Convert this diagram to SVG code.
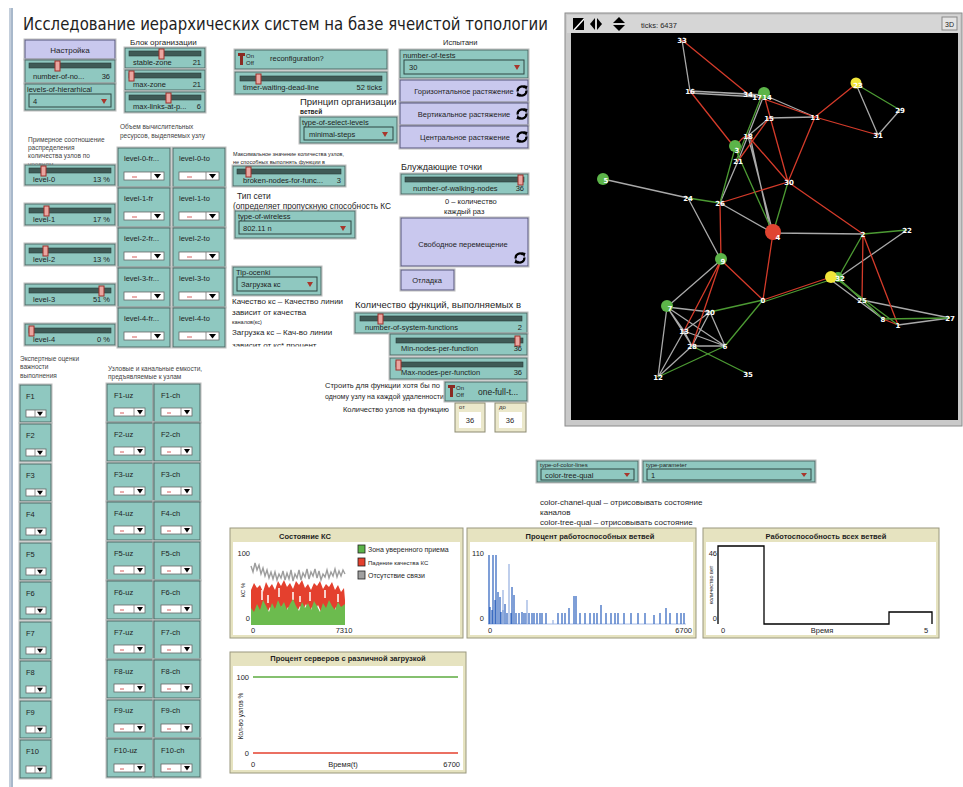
<svg xmlns="http://www.w3.org/2000/svg" width="963" height="787" viewBox="0 0 963 787">
<defs>
<style>
text{font-family:"Liberation Sans",Arial,sans-serif;fill:#1e1e1e}
.w{fill:#8fc8c0;stroke:#4f6a66;stroke-width:1}
.b{fill:#c9c8ee;stroke:#55557a;stroke-width:1}
.o{fill:none;stroke:#bdbdbd;stroke-width:1}
.trk{fill:#3f5a56;stroke:#2a3c39;stroke-width:0.6}
.kn{fill:#eaa6a0;stroke:#9c2f2a;stroke-width:1}
.lb{font-size:7.5px}
.sm{font-size:6.5px;fill:#444}
.vb{fill:#8fc8c0;stroke:#2f4643;stroke-width:1}
.ar{fill:#a8372c}
.pl{fill:#e6e3c0;stroke:#9a987e;stroke-width:1}
.pw{fill:#fff}
.pt{font-size:7.5px;font-weight:bold;text-anchor:middle}
.ax{font-size:7.5px}
.nt{font-family:"DejaVu Sans",sans-serif;font-size:7px;font-weight:bold;fill:#fff;text-anchor:middle}
.eg{stroke:#a9a9a9;stroke-width:1.3;fill:none}
.er{stroke:#d43b2a;stroke-width:1.3;fill:none}
.en{stroke:#4c9a33;stroke-width:1.3;fill:none}
.mo{fill:#ebe8cb;stroke:#8d8b72;stroke-width:1}
</style>
<!-- forever-button icon -->
<g id="fv">
<path d="M-4.3,0.5 A4.3,4.3 0 0 1 3,-3.2" stroke="#000" stroke-width="2.2" fill="none"/>
<polygon points="1.2,-6 5.6,-5 4.2,-0.8" fill="#000"/>
<path d="M4.3,-0.5 A4.3,4.3 0 0 1 -3,3.2" stroke="#000" stroke-width="2.2" fill="none"/>
<polygon points="-1.2,6 -5.6,5 -4.2,0.8" fill="#000"/>
</g>
<!-- small white drop-down boxes -->
<g id="dd40">
<rect x="0" y="0" width="40" height="8" fill="#fff" stroke="#666" stroke-width="0.8"/>
<line x1="27" y1="0" x2="27" y2="8" stroke="#777" stroke-width="0.8"/>
<polygon points="30,2 37,2 33.5,6.5" fill="#000"/>
<line x1="8" y1="5" x2="13" y2="5" stroke="#c33" stroke-width="0.8"/>
</g>
<g id="dd31">
<rect x="0" y="0" width="31" height="8" fill="#fff" stroke="#666" stroke-width="0.8"/>
<line x1="20" y1="0" x2="20" y2="8" stroke="#777" stroke-width="0.8"/>
<polygon points="23,2 29,2 26,6.5" fill="#000"/>
<line x1="6" y1="5" x2="10" y2="5" stroke="#c33" stroke-width="0.8"/>
</g>
<g id="dd20">
<rect x="0" y="0" width="20" height="7" fill="#fff" stroke="#666" stroke-width="0.8"/>
<line x1="9" y1="0" x2="9" y2="7" stroke="#777" stroke-width="0.8"/>
<polygon points="11,1.8 17,1.8 14,6" fill="#000"/>
</g>
<clipPath id="cut346"><rect x="220" y="290" width="200" height="56.5"/></clipPath>
<clipPath id="p1clip"><rect x="230" y="528" width="232" height="110"/></clipPath>
</defs>

<rect width="963" height="787" fill="#fff"/>
<rect x="9" y="8" width="4" height="779" fill="#c3cedb"/>
<line x1="12" y1="8" x2="12" y2="787" stroke="#8ea3bb" stroke-width="1"/>

<text x="23" y="30" font-size="17" textLength="525" lengthAdjust="spacingAndGlyphs" style="font-family:'DejaVu Sans',sans-serif">Исследование иерархических систем на базе ячеистой топологии</text>

<!-- setup block -->
<g id="btn-setup">
<rect class="o" x="24" y="39" width="92" height="21"/>
<rect class="b" x="25" y="40" width="90" height="19"/>
<text x="70" y="53" font-size="8" text-anchor="middle">Настройка</text>
</g>
<g id="sl-number-of-nodes">
<rect class="o" x="24" y="59" width="92" height="25"/>
<rect class="w" x="25" y="60" width="90" height="23"/>
<rect class="trk" x="29" y="63" width="82" height="5"/>
<rect class="kn" x="55" y="61" width="5" height="10"/>
<text class="lb" x="33" y="79">number-of-no...</text>
<text class="lb" x="110" y="79" text-anchor="end">36</text>
</g>
<g id="ch-levels">
<rect class="o" x="24" y="83" width="92" height="28"/>
<rect class="w" x="25" y="84" width="90" height="26"/>
<text class="lb" x="27" y="92">levels-of-hierarhical</text>
<rect class="vb" x="29" y="94" width="82" height="13"/>
<text class="lb" x="33" y="104">4</text>
<polygon class="ar" points="101,99 107,99 104,104"/>
</g>

<text x="130" y="45" font-size="8">Блок организации</text>
<g id="sl-stable-zone">
<rect class="o" x="124" y="47" width="82" height="22"/>
<rect class="w" x="125" y="48" width="80" height="20"/>
<rect class="trk" x="129" y="51" width="72" height="5"/>
<rect class="kn" x="159" y="49" width="5" height="10"/>
<text class="lb" x="133" y="65">stable-zone</text>
<text class="lb" x="201" y="65" text-anchor="end">21</text>
</g>
<g id="sl-max-zone">
<rect class="o" x="124" y="69" width="82" height="22"/>
<rect class="w" x="125" y="70" width="80" height="20"/>
<rect class="trk" x="129" y="73" width="72" height="5"/>
<rect class="kn" x="129" y="71" width="5" height="10"/>
<text class="lb" x="133" y="87">max-zone</text>
<text class="lb" x="201" y="87" text-anchor="end">21</text>
</g>
<g id="sl-max-links">
<rect class="o" x="124" y="91" width="82" height="22"/>
<rect class="w" x="125" y="92" width="80" height="20"/>
<rect class="trk" x="129" y="95" width="72" height="5"/>
<rect class="kn" x="166" y="93" width="5" height="10"/>
<text class="lb" x="133" y="109" font-size="7">max-links-at-p...</text>
<text class="lb" x="201" y="109" text-anchor="end">6</text>
</g>

<g id="sw-reconfiguration">
<rect class="o" x="234" y="49" width="154" height="21"/>
<rect class="w" x="235" y="50" width="152" height="19"/>
<rect x="238" y="53" width="7" height="3" fill="#8a2a22"/>
<rect x="240" y="53" width="3" height="12" fill="#8a2a22"/>
<text x="246" y="58" font-size="6">On</text>
<text x="246" y="65" font-size="6">Off</text>
<text class="lb" x="270" y="61">reconfiguration?</text>
</g>
<g id="sl-timer">
<rect class="o" x="234" y="71" width="154" height="24"/>
<rect class="w" x="235" y="72" width="152" height="22"/>
<rect class="trk" x="240" y="76" width="142" height="5"/>
<rect class="kn" x="256" y="74" width="5" height="10"/>
<text class="lb" x="243" y="90">timer-waiting-dead-line</text>
<text class="lb" x="382" y="90" text-anchor="end">52 ticks</text>
</g>

<text x="300" y="105" font-size="9.5">Принцип организации</text>
<text x="300" y="114" font-size="6.5" font-weight="bold">ветвей</text>
<g id="ch-select-levels">
<rect class="o" x="299" y="116" width="99" height="28"/>
<rect class="w" x="300" y="117" width="97" height="26"/>
<text class="lb" x="302" y="125">type-of-select-levels</text>
<rect class="vb" x="304" y="127" width="89" height="13"/>
<text class="lb" x="309" y="137">minimal-steps</text>
<polygon class="ar" points="382,132 388,132 385,137"/>
</g>

<text x="443" y="45" font-size="7.5">Испытани</text>
<g id="ch-number-of-tests">
<rect class="o" x="399" y="49" width="130" height="30"/>
<rect class="w" x="400" y="50" width="128" height="28"/>
<text class="lb" x="403" y="58">number-of-tests</text>
<rect class="vb" x="404" y="60" width="120" height="14"/>
<text class="lb" x="409" y="70">30</text>
<polygon class="ar" points="514,65 520,65 517,70"/>
</g>
<g id="btn-horizontal">
<rect class="o" x="399" y="79" width="130" height="24"/>
<rect class="b" x="400" y="80" width="128" height="22"/>
<text x="464" y="94" font-size="7.5" text-anchor="middle">Горизонтальное растяжение</text>
<use href="#fv" x="522" y="91"/>
</g>
<g id="btn-vertical">
<rect class="o" x="399" y="102" width="130" height="24"/>
<rect class="b" x="400" y="103" width="128" height="22"/>
<text x="464" y="117" font-size="7.5" text-anchor="middle">Вертикальное растяжение</text>
<use href="#fv" x="522" y="114"/>
</g>
<g id="btn-central">
<rect class="o" x="399" y="125" width="130" height="24"/>
<rect class="b" x="400" y="126" width="128" height="22"/>
<text x="465" y="140" font-size="7.5" text-anchor="middle">Центральное растяжение</text>
<use href="#fv" x="522" y="137"/>
</g>

<!-- level distribution -->
<text class="sm" x="28" y="142">Примерное соотношение</text>
<text class="sm" x="28" y="150">распределения</text>
<text class="sm" x="28" y="158">количества узлов по</text>
<text class="sm" x="28" y="167">уровням</text>
<text class="sm" x="120" y="129">Объем вычислительных</text>
<text class="sm" x="120" y="138">ресурсов, выделяемых узлу</text>

<g id="sl-level-0">
<rect class="o" x="24" y="164" width="92" height="22"/>
<rect class="w" x="25" y="165" width="90" height="20"/>
<rect class="trk" x="29" y="168" width="82" height="5"/>
<rect class="kn" x="41" y="166" width="5" height="10"/>
<text class="lb" x="33" y="182">level-0</text>
<text class="lb" x="110" y="182" text-anchor="end">13 %</text>
</g>
<g id="sl-level-1">
<rect class="o" x="24" y="203" width="92" height="23"/>
<rect class="w" x="25" y="204" width="90" height="21"/>
<rect class="trk" x="29" y="208" width="82" height="5"/>
<rect class="kn" x="44" y="206" width="5" height="10"/>
<text class="lb" x="33" y="222">level-1</text>
<text class="lb" x="110" y="222" text-anchor="end">17 %</text>
</g>
<g id="sl-level-2">
<rect class="o" x="24" y="243" width="92" height="23"/>
<rect class="w" x="25" y="244" width="90" height="21"/>
<rect class="trk" x="29" y="248" width="82" height="5"/>
<rect class="kn" x="43" y="246" width="5" height="10"/>
<text class="lb" x="33" y="262">level-2</text>
<text class="lb" x="110" y="262" text-anchor="end">13 %</text>
</g>
<g id="sl-level-3">
<rect class="o" x="24" y="283" width="92" height="23"/>
<rect class="w" x="25" y="284" width="90" height="21"/>
<rect class="trk" x="29" y="288" width="82" height="5"/>
<rect class="kn" x="99" y="286" width="5" height="10"/>
<text class="lb" x="33" y="302">level-3</text>
<text class="lb" x="110" y="302" text-anchor="end">51 %</text>
</g>
<g id="sl-level-4">
<rect class="o" x="24" y="323" width="92" height="23"/>
<rect class="w" x="25" y="324" width="90" height="21"/>
<rect class="trk" x="29" y="328" width="82" height="5"/>
<rect class="kn" x="29" y="326" width="5" height="10"/>
<text class="lb" x="33" y="342">level-4</text>
<text class="lb" x="110" y="342" text-anchor="end">0 %</text>
</g>

<!-- resource choosers -->
<g id="ch-level-0-fr"><rect class="o" x="117" y="147" width="54" height="41"/><rect class="w" x="118" y="148" width="52" height="39"/><text class="lb" x="124" y="161" font-size="7">level-0-fr...</text><use href="#dd40" x="124" y="172"/></g>
<g id="ch-level-0-to"><rect class="o" x="172" y="147" width="54" height="41"/><rect class="w" x="173" y="148" width="52" height="39"/><text class="lb" x="179" y="161" font-size="7">level-0-to</text><use href="#dd40" x="179" y="172"/></g>
<g id="ch-level-1-fr"><rect class="o" x="117" y="187" width="54" height="41"/><rect class="w" x="118" y="188" width="52" height="39"/><text class="lb" x="124" y="201" font-size="7">level-1-fr</text><use href="#dd40" x="124" y="212"/></g>
<g id="ch-level-1-to"><rect class="o" x="172" y="187" width="54" height="41"/><rect class="w" x="173" y="188" width="52" height="39"/><text class="lb" x="179" y="201" font-size="7">level-1-to</text><use href="#dd40" x="179" y="212"/></g>
<g id="ch-level-2-fr"><rect class="o" x="117" y="227" width="54" height="41"/><rect class="w" x="118" y="228" width="52" height="39"/><text class="lb" x="124" y="241" font-size="7">level-2-fr...</text><use href="#dd40" x="124" y="252"/></g>
<g id="ch-level-2-to"><rect class="o" x="172" y="227" width="54" height="41"/><rect class="w" x="173" y="228" width="52" height="39"/><text class="lb" x="179" y="241" font-size="7">level-2-to</text><use href="#dd40" x="179" y="252"/></g>
<g id="ch-level-3-fr"><rect class="o" x="117" y="267" width="54" height="41"/><rect class="w" x="118" y="268" width="52" height="39"/><text class="lb" x="124" y="281" font-size="7">level-3-fr...</text><use href="#dd40" x="124" y="292"/></g>
<g id="ch-level-3-to"><rect class="o" x="172" y="267" width="54" height="41"/><rect class="w" x="173" y="268" width="52" height="39"/><text class="lb" x="179" y="281" font-size="7">level-3-to</text><use href="#dd40" x="179" y="292"/></g>
<g id="ch-level-4-fr"><rect class="o" x="117" y="307" width="54" height="41"/><rect class="w" x="118" y="308" width="52" height="39"/><text class="lb" x="124" y="321" font-size="7">level-4-fr...</text><use href="#dd40" x="124" y="332"/></g>
<g id="ch-level-4-to"><rect class="o" x="172" y="307" width="54" height="41"/><rect class="w" x="173" y="308" width="52" height="39"/><text class="lb" x="179" y="321" font-size="7">level-4-to</text><use href="#dd40" x="179" y="332"/></g>

<!-- network parameters -->
<text x="233" y="156" font-size="5.5" fill="#333">Максимальное значение количества узлов,</text>
<text x="233" y="164" font-size="5.5" fill="#333">не способных выполнять функции в</text>
<g id="sl-broken-nodes">
<rect class="o" x="232" y="165" width="114" height="22"/>
<rect class="w" x="233" y="166" width="112" height="20"/>
<rect class="trk" x="237" y="169" width="104" height="5"/>
<rect class="kn" x="246" y="167" width="5" height="10"/>
<text class="lb" x="243" y="183">broken-nodes-for-func...</text>
<text class="lb" x="341" y="183" text-anchor="end">3</text>
</g>
<text x="237" y="199" font-size="8.5">Тип сети</text>
<text x="233" y="209" font-size="8.5" textLength="158" lengthAdjust="spacingAndGlyphs">(определяет пропускную способность КС</text>
<g id="ch-wireless">
<rect class="o" x="234" y="210" width="122" height="29"/>
<rect class="w" x="235" y="211" width="120" height="27"/>
<text class="lb" x="238" y="219">type-of-wireless</text>
<rect class="vb" x="239" y="221" width="112" height="13"/>
<text class="lb" x="243" y="231">802.11 n</text>
<polygon class="ar" points="340,226 346,226 343,231"/>
</g>
<g id="ch-tip-ocenki">
<rect class="o" x="232" y="266" width="90" height="30"/>
<rect class="w" x="233" y="267" width="88" height="28"/>
<text class="lb" x="236" y="275">Tip-ocenki</text>
<rect class="vb" x="237" y="277" width="80" height="14"/>
<text class="lb" x="241" y="287">Загрузка кс</text>
<polygon class="ar" points="307,282 313,282 310,287"/>
</g>
<text x="232" y="304" font-size="8">Качество кс – Качество линии</text>
<text x="232" y="315" font-size="8">зависит от качества</text>
<text x="232" y="324" font-size="5.5">каналов(кс)</text>
<text x="232" y="335" font-size="8">Загрузка кс – Кач-во линии</text>
<text x="232" y="347.5" font-size="8" clip-path="url(#cut346)">зависит от кс* процент</text>

<text x="401" y="170" font-size="9">Блуждающие точки</text>
<g id="sl-walking-nodes">
<rect class="o" x="400" y="173" width="129" height="22"/>
<rect class="w" x="401" y="174" width="127" height="20"/>
<rect class="trk" x="405" y="177" width="119" height="5"/>
<rect class="kn" x="518" y="175" width="5" height="10"/>
<text class="lb" x="413" y="191">number-of-walking-nodes</text>
<text class="lb" x="524" y="191" text-anchor="end">36</text>
</g>
<text x="445" y="204" font-size="7.5">0 – количество</text>
<text x="444" y="214" font-size="7.5">каждый раз</text>
<g id="btn-free-move">
<rect class="o" x="400" y="217" width="129" height="50"/>
<rect class="b" x="401" y="218" width="127" height="48"/>
<text x="463" y="247" font-size="7.5" text-anchor="middle">Свободное перемещение</text>
<use href="#fv" x="520" y="258"/>
</g>
<g id="btn-debug">
<rect class="o" x="400" y="269" width="55" height="22"/>
<rect class="b" x="401" y="270" width="53" height="20"/>
<text x="427" y="283" font-size="7.5" text-anchor="middle">Отладка</text>
</g>

<!-- functions -->
<text x="355" y="308" font-size="9.5">Количество функций, выполняемых в</text>
<g id="sl-system-functions">
<rect class="o" x="354" y="312" width="174" height="22"/>
<rect class="w" x="355" y="313" width="172" height="20"/>
<rect class="trk" x="360" y="316" width="162" height="5"/>
<rect class="kn" x="378" y="314" width="5" height="10"/>
<text class="lb" x="365" y="330">number-of-system-functions</text>
<text class="lb" x="522" y="330" text-anchor="end">2</text>
</g>
<g id="sl-min-nodes">
<rect class="o" x="389" y="333" width="139" height="23"/>
<rect class="w" x="390" y="334" width="137" height="21"/>
<rect class="trk" x="396" y="338" width="127" height="5"/>
<rect class="kn" x="515" y="336" width="5" height="10"/>
<text class="lb" x="401" y="351">Min-nodes-per-function</text>
<text class="lb" x="522" y="351" text-anchor="end">36</text>
</g>
<g id="sl-max-nodes">
<rect class="o" x="389" y="357" width="139" height="23"/>
<rect class="w" x="390" y="358" width="137" height="21"/>
<rect class="trk" x="396" y="362" width="127" height="5"/>
<rect class="kn" x="396" y="360" width="5" height="10"/>
<text class="lb" x="401" y="375">Max-nodes-per-function</text>
<text class="lb" x="522" y="375" text-anchor="end">36</text>
</g>
<text x="325" y="388" font-size="7.5">Строить для функции хотя бы по</text>
<text x="325" y="399" font-size="7">одному узлу на каждой удаленности</text>
<g id="sw-one-full">
<rect class="o" x="444" y="381" width="84" height="21"/>
<rect class="w" x="445" y="382" width="82" height="19"/>
<rect x="448" y="385" width="7" height="3" fill="#8a2a22"/>
<rect x="450" y="385" width="3" height="12" fill="#8a2a22"/>
<text x="456" y="390" font-size="6">On</text>
<text x="456" y="397" font-size="6">Off</text>
<text x="478" y="395" font-size="8.5">one-full-t...</text>
</g>
<text x="343" y="412" font-size="7.5">Количество узлов на функцию</text>
<g id="mon-from">
<rect class="mo" x="455" y="403" width="30" height="29"/>
<text x="459" y="409" font-size="6">от</text>
<rect x="459" y="412" width="22" height="16" fill="#fff"/>
<text x="470" y="423" font-size="7.5" text-anchor="middle">36</text>
</g>
<g id="mon-to">
<rect class="mo" x="495" y="403" width="31" height="29"/>
<text x="499" y="409" font-size="6">до</text>
<rect x="499" y="412" width="23" height="16" fill="#fff"/>
<text x="510" y="423" font-size="7.5" text-anchor="middle">36</text>
</g>

<!-- world view -->
<g id="view">
<rect x="565" y="13" width="397" height="413" fill="#c9c9c9" stroke="#8a8a8a"/>
<rect x="567" y="15" width="393" height="18" fill="#d6d6d6"/>
<polygon points="573,18 584,18 584,30 573,30" fill="#000"/>
<polygon points="573,30 584,18 584,20 575,30" fill="#fff"/>
<polygon points="595,18 590,24 595,30" fill="#000"/>
<polygon points="597,18 602,24 597,30" fill="#000"/>
<polygon points="613,23 619,17 625,23" fill="#000"/>
<polygon points="613,25 619,31 625,25" fill="#000"/>
<text x="641" y="28" font-size="7.5" fill="#333">ticks: 6437</text>
<rect x="942" y="17" width="15" height="13" fill="#e4e4e4" stroke="#888"/>
<text x="949.5" y="27" font-size="7" text-anchor="middle">3D</text>
<rect x="571" y="33" width="387" height="387" fill="#000"/>
</g>

<g id="links">
<!-- gray links -->
<path class="eg" d="M682,40L690,91M690,91L764,95M690,93L758,97M690,91L748,94M764,95L815,117M769,118L815,117M856,84L878,135M900,110L878,135M769,118L748,136M764,95L738,161M748,136L773,233M750,136L771,233M738,161L720,203M603,179L688,198M688,198L721,260M720,203L773,233M773,233L863,234M907,230L838,278M721,260L667,307M667,307L710,312M667,307L684,331M667,307L725,346M667,307L658,377M667,307L692,346M710,312L684,331M710,312L725,346M684,331L725,346M684,331L692,346M692,346L725,346M658,377L684,331M658,377L692,346M838,278L862,300M862,300L883,319M862,300L950,318M898,325L950,318M710,312L692,346M831,280L883,319"/>
<!-- red links -->
<path class="er" d="M682,40L748,94M690,91L735,148M758,97L815,117M815,117L856,84M815,117L878,135M764,95L788,182M815,117L788,182M748,136L788,182M769,118L738,161M735,148Q742,136 748,136M788,182L720,203M788,182L863,234M720,203L721,260M773,233L763,300M863,234L862,300M863,234L898,325M721,260L763,300M721,260L684,331M721,260L692,346M763,300L831,277M883,319L898,325"/>
<!-- green links -->
<path class="en" d="M856,84L900,110M762,95L736,161M735,148L720,203M735,148L773,233M788,182L773,233M688,198L720,203M863,234L907,230M863,234L838,278M763,302L833,279M763,300L710,312M763,300L725,346M692,346L748,374M658,377L725,346M838,278L883,319M838,280L898,325M883,319L950,318"/>
</g>

<g id="nodes">
<circle cx="764" cy="93" r="6" fill="#5cb449"/>
<circle cx="735" cy="146" r="6" fill="#5cb449"/>
<circle cx="603" cy="179" r="6" fill="#5cb449"/>
<circle cx="721" cy="259" r="6" fill="#5cb449"/>
<circle cx="667" cy="306" r="6" fill="#5cb449"/>
<circle cx="838" cy="277" r="5" fill="#5cb449"/>
<circle cx="773" cy="232" r="8" fill="#e04431"/>
<circle cx="856" cy="83" r="5.5" fill="#f2e63a"/>
<circle cx="831" cy="277" r="6" fill="#f2e63a"/>
<text class="nt" x="682" y="43">33</text>
<text class="nt" x="690" y="94">16</text>
<text class="nt" x="748" y="97">34</text>
<text class="nt" x="757" y="100">17</text>
<text class="nt" x="767" y="100">14</text>
<text class="nt" x="769" y="121">15</text>
<text class="nt" x="815" y="120">11</text>
<text class="nt" x="748" y="139">18</text>
<text class="nt" x="737" y="153">3</text>
<text class="nt" x="738" y="164">21</text>
<text class="nt" x="789" y="185">30</text>
<text class="nt" x="858" y="88">23</text>
<text class="nt" x="900" y="113">29</text>
<text class="nt" x="878" y="138">31</text>
<text class="nt" x="606" y="183">5</text>
<text class="nt" x="688" y="201">24</text>
<text class="nt" x="720" y="206">26</text>
<text class="nt" x="778" y="240">4</text>
<text class="nt" x="863" y="237">2</text>
<text class="nt" x="907" y="233">22</text>
<text class="nt" x="723" y="264">9</text>
<text class="nt" x="840" y="281">32</text>
<text class="nt" x="763" y="303">0</text>
<text class="nt" x="670" y="311">7</text>
<text class="nt" x="710" y="315">20</text>
<text class="nt" x="862" y="303">25</text>
<text class="nt" x="883" y="322">8</text>
<text class="nt" x="898" y="328">1</text>
<text class="nt" x="950" y="321">27</text>
<text class="nt" x="684" y="334">13</text>
<text class="nt" x="692" y="349">28</text>
<text class="nt" x="725" y="349">6</text>
<text class="nt" x="658" y="380">12</text>
<text class="nt" x="748" y="377">35</text>
</g>

<!-- colour mode choosers -->
<g id="ch-color-lines">
<rect class="o" x="536" y="460" width="103" height="23"/>
<rect class="w" x="537" y="461" width="101" height="21"/>
<text x="540" y="467" font-size="6">type-of-color-lines</text>
<rect class="vb" x="541" y="469" width="93" height="11"/>
<text class="lb" x="545" y="477.5">color-tree-qual</text>
<polygon class="ar" points="624,473 630,473 627,477"/>
</g>
<g id="ch-parameter">
<rect class="o" x="642" y="460" width="174" height="23"/>
<rect class="w" x="643" y="461" width="172" height="21"/>
<text x="646" y="467" font-size="6">type-parameter</text>
<rect class="vb" x="647" y="469" width="164" height="11"/>
<text class="lb" x="651" y="477.5">1</text>
<polygon class="ar" points="801,473 807,473 804,477"/>
</g>
<text x="540" y="505" font-size="8">color-chanel-qual – отрисовывать состояние</text>
<text x="540" y="515" font-size="8">каналов</text>
<text x="540" y="525" font-size="8">color-tree-qual – отрисовывать состояние</text>

<!-- function weights -->
<text class="sm" x="20" y="361" font-size="6">Экспертные оценки</text>
<text class="sm" x="20" y="369" font-size="6">важности</text>
<text class="sm" x="20" y="378" font-size="6">выполнения</text>
<text class="sm" x="108" y="371" font-size="6">Узловые и канальные емкости,</text>
<text class="sm" x="108" y="379" font-size="6">предъявляемые к узлам</text>

<g id="ch-F1"><rect class="o" x="19" y="384" width="33" height="39"/><rect class="w" x="20" y="385" width="31" height="37"/><text class="lb" x="26" y="399" font-size="7">F1</text><use href="#dd20" x="26" y="410"/></g>
<g id="ch-F2"><rect class="o" x="19" y="423" width="33" height="39"/><rect class="w" x="20" y="424" width="31" height="37"/><text class="lb" x="26" y="438" font-size="7">F2</text><use href="#dd20" x="26" y="449"/></g>
<g id="ch-F3"><rect class="o" x="19" y="463" width="33" height="39"/><rect class="w" x="20" y="464" width="31" height="37"/><text class="lb" x="26" y="478" font-size="7">F3</text><use href="#dd20" x="26" y="489"/></g>
<g id="ch-F4"><rect class="o" x="19" y="502" width="33" height="39"/><rect class="w" x="20" y="503" width="31" height="37"/><text class="lb" x="26" y="517" font-size="7">F4</text><use href="#dd20" x="26" y="528"/></g>
<g id="ch-F5"><rect class="o" x="19" y="542" width="33" height="39"/><rect class="w" x="20" y="543" width="31" height="37"/><text class="lb" x="26" y="557" font-size="7">F5</text><use href="#dd20" x="26" y="568"/></g>
<g id="ch-F6"><rect class="o" x="19" y="581" width="33" height="39"/><rect class="w" x="20" y="582" width="31" height="37"/><text class="lb" x="26" y="596" font-size="7">F6</text><use href="#dd20" x="26" y="607"/></g>
<g id="ch-F7"><rect class="o" x="19" y="621" width="33" height="39"/><rect class="w" x="20" y="622" width="31" height="37"/><text class="lb" x="26" y="636" font-size="7">F7</text><use href="#dd20" x="26" y="647"/></g>
<g id="ch-F8"><rect class="o" x="19" y="660" width="33" height="39"/><rect class="w" x="20" y="661" width="31" height="37"/><text class="lb" x="26" y="675" font-size="7">F8</text><use href="#dd20" x="26" y="686"/></g>
<g id="ch-F9"><rect class="o" x="19" y="700" width="33" height="39"/><rect class="w" x="20" y="701" width="31" height="37"/><text class="lb" x="26" y="715" font-size="7">F9</text><use href="#dd20" x="26" y="726"/></g>
<g id="ch-F10"><rect class="o" x="19" y="739" width="33" height="40"/><rect class="w" x="20" y="740" width="31" height="38"/><text class="lb" x="26" y="754" font-size="7">F10</text><use href="#dd20" x="26" y="766"/></g>

<g id="ch-F1-uz"><rect class="o" x="106" y="383" width="48" height="40"/><rect class="w" x="107" y="384" width="46" height="38"/><text class="lb" x="114" y="398" font-size="7">F1-uz</text><use href="#dd31" x="114" y="408"/></g>
<g id="ch-F1-ch"><rect class="o" x="153" y="383" width="48" height="40"/><rect class="w" x="154" y="384" width="46" height="38"/><text class="lb" x="161" y="398" font-size="7">F1-ch</text><use href="#dd31" x="161" y="408"/></g>
<g id="ch-F2-uz"><rect class="o" x="106" y="422" width="48" height="40"/><rect class="w" x="107" y="423" width="46" height="38"/><text class="lb" x="114" y="437" font-size="7">F2-uz</text><use href="#dd31" x="114" y="447"/></g>
<g id="ch-F2-ch"><rect class="o" x="153" y="422" width="48" height="40"/><rect class="w" x="154" y="423" width="46" height="38"/><text class="lb" x="161" y="437" font-size="7">F2-ch</text><use href="#dd31" x="161" y="447"/></g>
<g id="ch-F3-uz"><rect class="o" x="106" y="462" width="48" height="40"/><rect class="w" x="107" y="463" width="46" height="38"/><text class="lb" x="114" y="477" font-size="7">F3-uz</text><use href="#dd31" x="114" y="487"/></g>
<g id="ch-F3-ch"><rect class="o" x="153" y="462" width="48" height="40"/><rect class="w" x="154" y="463" width="46" height="38"/><text class="lb" x="161" y="477" font-size="7">F3-ch</text><use href="#dd31" x="161" y="487"/></g>
<g id="ch-F4-uz"><rect class="o" x="106" y="501" width="48" height="40"/><rect class="w" x="107" y="502" width="46" height="38"/><text class="lb" x="114" y="516" font-size="7">F4-uz</text><use href="#dd31" x="114" y="526"/></g>
<g id="ch-F4-ch"><rect class="o" x="153" y="501" width="48" height="40"/><rect class="w" x="154" y="502" width="46" height="38"/><text class="lb" x="161" y="516" font-size="7">F4-ch</text><use href="#dd31" x="161" y="526"/></g>
<g id="ch-F5-uz"><rect class="o" x="106" y="541" width="48" height="40"/><rect class="w" x="107" y="542" width="46" height="38"/><text class="lb" x="114" y="556" font-size="7">F5-uz</text><use href="#dd31" x="114" y="566"/></g>
<g id="ch-F5-ch"><rect class="o" x="153" y="541" width="48" height="40"/><rect class="w" x="154" y="542" width="46" height="38"/><text class="lb" x="161" y="556" font-size="7">F5-ch</text><use href="#dd31" x="161" y="566"/></g>
<g id="ch-F6-uz"><rect class="o" x="106" y="580" width="48" height="40"/><rect class="w" x="107" y="581" width="46" height="38"/><text class="lb" x="114" y="595" font-size="7">F6-uz</text><use href="#dd31" x="114" y="605"/></g>
<g id="ch-F6-ch"><rect class="o" x="153" y="580" width="48" height="40"/><rect class="w" x="154" y="581" width="46" height="38"/><text class="lb" x="161" y="595" font-size="7">F6-ch</text><use href="#dd31" x="161" y="605"/></g>
<g id="ch-F7-uz"><rect class="o" x="106" y="620" width="48" height="40"/><rect class="w" x="107" y="621" width="46" height="38"/><text class="lb" x="114" y="635" font-size="7">F7-uz</text><use href="#dd31" x="114" y="645"/></g>
<g id="ch-F7-ch"><rect class="o" x="153" y="620" width="48" height="40"/><rect class="w" x="154" y="621" width="46" height="38"/><text class="lb" x="161" y="635" font-size="7">F7-ch</text><use href="#dd31" x="161" y="645"/></g>
<g id="ch-F8-uz"><rect class="o" x="106" y="659" width="48" height="40"/><rect class="w" x="107" y="660" width="46" height="38"/><text class="lb" x="114" y="674" font-size="7">F8-uz</text><use href="#dd31" x="114" y="684"/></g>
<g id="ch-F8-ch"><rect class="o" x="153" y="659" width="48" height="40"/><rect class="w" x="154" y="660" width="46" height="38"/><text class="lb" x="161" y="674" font-size="7">F8-ch</text><use href="#dd31" x="161" y="684"/></g>
<g id="ch-F9-uz"><rect class="o" x="106" y="699" width="48" height="40"/><rect class="w" x="107" y="700" width="46" height="38"/><text class="lb" x="114" y="713" font-size="7">F9-uz</text><use href="#dd31" x="114" y="724"/></g>
<g id="ch-F9-ch"><rect class="o" x="153" y="699" width="48" height="40"/><rect class="w" x="154" y="700" width="46" height="38"/><text class="lb" x="161" y="713" font-size="7">F9-ch</text><use href="#dd31" x="161" y="724"/></g>
<g id="ch-F10-uz"><rect class="o" x="106" y="738" width="48" height="40"/><rect class="w" x="107" y="739" width="46" height="38"/><text class="lb" x="114" y="753" font-size="7">F10-uz</text><use href="#dd31" x="114" y="764"/></g>
<g id="ch-F10-ch"><rect class="o" x="153" y="738" width="48" height="40"/><rect class="w" x="154" y="739" width="46" height="38"/><text class="lb" x="161" y="753" font-size="7">F10-ch</text><use href="#dd31" x="161" y="764"/></g>

<!-- plot: link state -->
<g id="plot-link-state">
<rect class="pl" x="230" y="528" width="233" height="110"/>
<rect class="pw" x="233" y="542" width="227" height="93"/>
<text class="pt" x="305" y="539">Состояние КС</text>
<polygon fill="#e4402e" points="251,590 254,583 257,588 260,585 263,592 266,582 269,588 272,584 275,590 278,581 281,586 284,580 287,587 290,583 293,589 296,581 299,585 302,580 305,588 308,584 311,590 314,583 317,586 320,581 323,589 326,584 329,587 332,582 335,590 338,585 341,592 344,588 345,600 345,612 342,610 339,616 336,607 333,613 330,608 327,614 324,606 321,612 318,605 315,611 312,607 309,613 306,604 303,610 300,606 297,612 294,605 291,611 288,607 285,614 282,606 279,612 276,608 273,615 270,607 267,613 264,609 261,616 258,612 255,620 251,625"/>
<path d="M262,590V600M279,588V597M293,592V600M310,592V601M325,590V598M338,594V602M268,595V603M300,596V602" stroke="#fff" stroke-width="1.5"/>
<polygon fill="#6cbb4e" points="251,608 254,612 257,604 260,610 263,600 266,606 269,612 272,603 275,609 278,600 281,607 284,602 287,610 290,604 293,599 296,606 299,611 302,602 305,608 308,603 311,610 314,601 317,606 320,612 323,603 326,608 329,600 332,606 335,610 338,602 341,607 345,604 345,625 251,625"/>
<polyline fill="none" stroke="#9d9d9d" stroke-width="1.4" points="251,566 253,572 255,563 257,570 259,565 261,574 263,568 265,576 267,570 269,578 271,572 273,579 275,572 277,580 279,574 281,578 283,571 285,580 287,573 289,579 291,570 293,581 295,574 297,578 299,570 301,580 303,573 305,577 307,569 309,579 311,572 313,576 315,569 317,578 319,571 321,580 323,574 325,577 327,570 329,578 331,572 333,576 335,569 337,577 339,571 341,576 343,570 345,574"/>
<text class="ax" x="250" y="556" text-anchor="end">100</text>
<text class="ax" x="250" y="621" text-anchor="end">0</text>
<text x="0" y="0" font-size="6" transform="translate(245,590) rotate(-90)" text-anchor="middle">КС %</text>
<text class="ax" x="253" y="633" text-anchor="middle">0</text>
<text class="ax" x="344" y="633" text-anchor="middle">7310</text>
<g clip-path="url(#p1clip)">
<rect x="358" y="545" width="7" height="8" fill="#5cb449" stroke="#222" stroke-width="0.8"/>
<text x="368" y="552" font-size="7">Зона уверенного приема</text>
<rect x="358" y="558" width="7" height="8" fill="#e4402e" stroke="#222" stroke-width="0.8"/>
<text x="368" y="565" font-size="6">Падение качества КС</text>
<rect x="358" y="571" width="7" height="8" fill="#a0a0a0" stroke="#222" stroke-width="0.8"/>
<text x="368" y="578" font-size="7">Отсутствие связи</text>
</g>
</g>

<!-- plot: working branches percentage -->
<g id="plot-branches-pct">
<rect class="pl" x="467" y="528" width="229" height="110"/>
<rect class="pw" x="470" y="542" width="223" height="93"/>
<text class="pt" x="590" y="539">Процент работоспособных ветвей</text>
<line x1="488" y1="624" x2="686" y2="624" stroke="#a9bde6" stroke-width="1"/>
<path stroke="#3b6cc2" stroke-width="1.3" d="M489,624V555M490,624V607M492,624V610M493,624V555M495,624V600M496,624V555M498,624V592M500,624V597M501,624V612M503,624V610M505,624V604M507,624V613M511,624V613M512,624V587M514,624V595M516,624V613M519,624V613M522,624V612M524,624V613M526,624V613M529,624V613M532,624V613M534,624V613M537,624V613M540,624V613M542,624V613M546,624V613M558,624V613M562,624V613M565,624V613M569,624V608M574,624V596M576,624V596M580,624V613M585,624V613M590,624V613M594,624V613M597,624V613M601,624V605M606,624V613M611,624V613M615,624V613M618,624V613M624,624V613M631,624V613M638,624V613M645,624V613M654,624V615M660,624V613M666,624V608M670,624V613M677,624V613M681,624V613M684,624V613"/>
<path stroke="#9db5e2" stroke-width="1.3" d="M509,624V564M553,624V620M503,624V590M527,624V600"/>
<text class="ax" x="484" y="556" text-anchor="end">110</text>
<text class="ax" x="484" y="621" text-anchor="end">0</text>
<text class="ax" x="490" y="633" text-anchor="middle">0</text>
<text class="ax" x="692" y="633" text-anchor="end">6700</text>
</g>

<!-- plot: all branches -->
<g id="plot-branches-all">
<rect class="pl" x="703" y="528" width="236" height="110"/>
<rect class="pw" x="706" y="542" width="230" height="93"/>
<text class="pt" x="826" y="539">Работоспособность всех ветвей</text>
<polyline fill="none" stroke="#000" stroke-width="1.3" points="718,624 718,546 764,546 764,624 889,624 889,612 932,612 932,624"/>
<text class="ax" x="717" y="556" text-anchor="end">46</text>
<text class="ax" x="717" y="621" text-anchor="end">0</text>
<text x="0" y="0" font-size="5.5" transform="translate(713,585) rotate(-90)" text-anchor="middle">количество вет</text>
<text class="ax" x="723" y="633" text-anchor="middle">0</text>
<text class="ax" x="822" y="633" text-anchor="middle">Время</text>
<text class="ax" x="926" y="633" text-anchor="middle">5</text>
</g>

<!-- plot: server load -->
<g id="plot-server-load">
<rect class="pl" x="230" y="652" width="236" height="121"/>
<rect class="pw" x="233" y="666" width="230" height="104"/>
<text class="pt" x="348" y="661">Процент серверов с различной загрузкой</text>
<line x1="253" y1="677" x2="458" y2="677" stroke="#5cab3f" stroke-width="1.3"/>
<line x1="253" y1="753" x2="458" y2="753" stroke="#e4402e" stroke-width="1.3"/>
<text class="ax" x="249" y="680" text-anchor="end">100</text>
<text class="ax" x="249" y="756" text-anchor="end">0</text>
<text x="0" y="0" font-size="6.5" transform="translate(243,716) rotate(-90)" text-anchor="middle">Кол-во узлов %</text>
<text class="ax" x="253" y="767" text-anchor="middle">0</text>
<text class="ax" x="343" y="767" text-anchor="middle">Время(t)</text>
<text class="ax" x="460" y="767" text-anchor="end">6700</text>
</g>
</svg>
